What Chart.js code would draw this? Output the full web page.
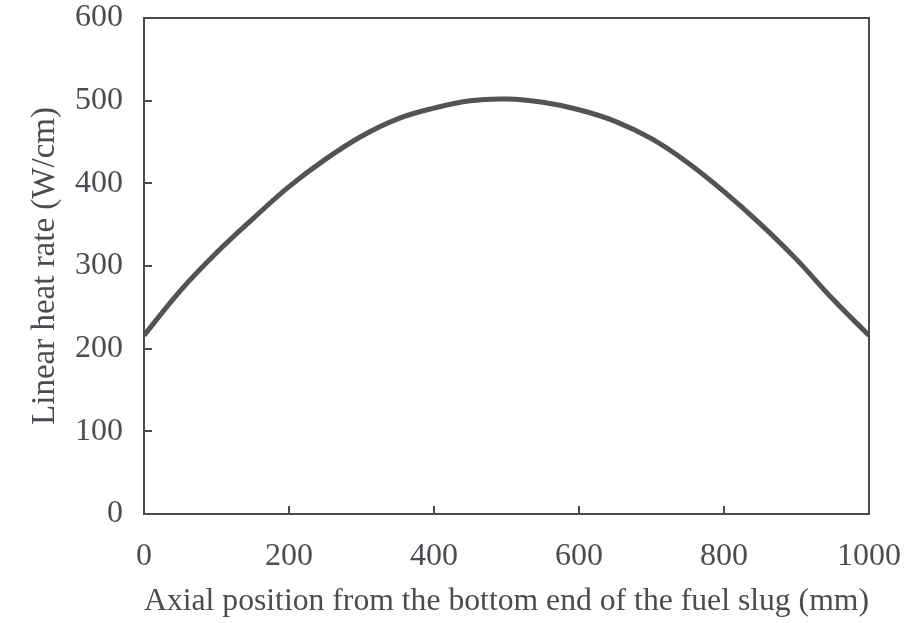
<!DOCTYPE html>
<html>
<head>
<meta charset="utf-8">
<script src="https://cdn.jsdelivr.net/npm/chart.js@4/dist/chart.umd.min.js"></script>
<style>
  html, body { margin: 0; padding: 0; background: #ffffff; }
  #wrap { width: 912px; height: 623px; }
</style>
</head>
<body>
<div id="wrap"><canvas id="c" width="912" height="623"></canvas></div>
<script>
// Axial position (mm)
const positions = [0, 50, 100, 150, 200, 250, 300, 350, 400, 450, 500, 550, 600, 650, 700, 750, 800, 850, 900, 950, 1000];
// Linear heat rate (W/cm)
const heatRate = [216, 270, 316, 357, 396, 429, 457, 478, 491, 500, 502, 498, 489, 475, 454, 425, 390, 351, 308, 260, 216];
const xTicks = [0, 200, 400, 600, 800, 1000];
const yTicks = [0, 100, 200, 300, 400, 500, 600];

const INK = '#4d4a52';
const FONT = "'Liberation Serif', 'Times New Roman', serif";

const framePlugin = {
  id: 'frame',
  afterDraw(chart) {
    const {ctx, chartArea: a, scales} = chart;
    ctx.save();
    ctx.strokeStyle = INK;
    ctx.lineWidth = 2;
    ctx.strokeRect(a.left, a.top, a.right - a.left, a.bottom - a.top);
    ctx.beginPath();
    xTicks.forEach(v => {
      const px = Math.round(scales.x.getPixelForValue(v));
      ctx.moveTo(px, a.bottom);
      ctx.lineTo(px, a.bottom - 8);
    });
    yTicks.forEach(v => {
      const py = Math.round(scales.y.getPixelForValue(v));
      ctx.moveTo(a.left, py);
      ctx.lineTo(a.left + 8, py);
    });
    ctx.stroke();
    ctx.restore();
  }
};

new Chart(document.getElementById('c'), {
  type: 'line',
  data: {
    datasets: [{
      data: positions.map((p, i) => ({x: p, y: heatRate[i]})),
      borderColor: '#555257',
      borderWidth: 5,
      pointRadius: 0,
      tension: 0.4,
      fill: false
    }]
  },
  options: {
    responsive: false,
    animation: false,
    layout: { padding: { top: 18, right: 43, left: 0, bottom: 0 } },
    plugins: { legend: { display: false }, tooltip: { enabled: false } },
    scales: {
      x: {
        type: 'linear',
        min: 0, max: 1000,
        afterBuildTicks(scale) { scale.ticks = xTicks.map(v => ({value: v})); },
        afterFit(scale) { scale.height = 109; scale.paddingLeft = 0; scale.paddingRight = 0; },
        grid: { display: false },
        border: { display: false },
        ticks: { color: INK, font: { family: FONT, size: 32 }, padding: 15, maxRotation: 0,
                 callback: v => String(v) },
        title: {
          display: true,
          text: 'Axial position from the bottom end of the fuel slug (mm)',
          color: INK,
          font: { family: FONT, size: 32 },
          padding: { top: 0, bottom: 2 }
        }
      },
      y: {
        type: 'linear',
        min: 0, max: 600,
        afterBuildTicks(scale) { scale.ticks = yTicks.map(v => ({value: v})); },
        afterFit(scale) { scale.width = 144; scale.paddingTop = 0; scale.paddingBottom = 0; },
        grid: { display: false },
        border: { display: false },
        ticks: { color: INK, font: { family: FONT, size: 32 }, padding: 13,
                 callback: v => String(v) },
        title: {
          display: true,
          text: 'Linear heat rate (W/cm)',
          color: INK,
          font: { family: FONT, size: 33 },
          padding: { top: 26, bottom: 0 }
        }
      }
    }
  },
  plugins: [framePlugin]
});
</script>
</body>
</html>
